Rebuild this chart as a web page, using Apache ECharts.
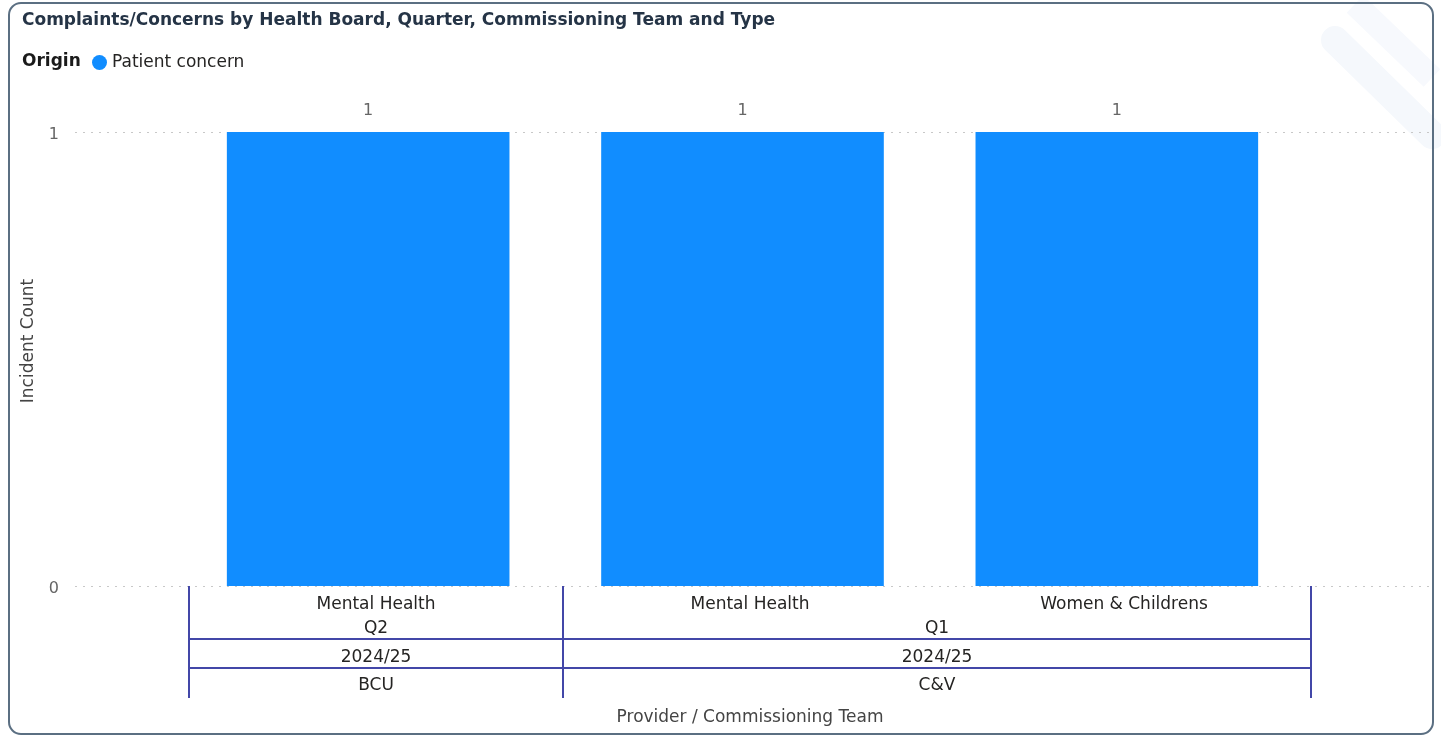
<!DOCTYPE html>
<html>
<head>
<meta charset="utf-8">
<script src="https://cdn.jsdelivr.net/npm/echarts@6/dist/echarts.min.js"></script>
<style>
html,body{margin:0;padding:0;background:#fff;}
#chart{width:1441px;height:736px;}
</style>
</head>
<body>
<div id="chart"></div>
<script>
// ---- data ----
const titleText = "Complaints/Concerns by Health Board, Quarter, Commissioning Team and Type";
const legendTitle = "Origin";
const seriesName = "Patient concern";
const teams = ["Mental Health", "Mental Health", "Women & Childrens"];
const quarters = [{label: "Q2", span: 1}, {label: "Q1", span: 2}];
const years = [{label: "2024/25", span: 1}, {label: "2024/25", span: 2}];
const providers = [{label: "BCU", span: 1}, {label: "C&V", span: 2}];
const values = [1, 1, 1];
const yMin = 0, yMax = 1, yInterval = 1;
const yAxisName = "Incident Count";
const xAxisName = "Provider / Commissioning Team";

// ---- helpers: build boundary-point label arrays (2n+1 points) ----
const n = teams.length;
function groupPoints(groups) {
  const arr = new Array(2 * n + 1).fill('');
  let c = 0;
  groups.forEach(g => { arr[2 * c + g.span] = g.label; c += g.span; });
  return arr;
}
function groupBoundaries(groups) {
  const set = new Set([0]);
  let c = 0;
  groups.forEach(g => { c += g.span; set.add(2 * c); });
  return set;
}
const teamPts = new Array(2 * n + 1).fill('');
teams.forEach((t, i) => { teamPts[2 * i + 1] = t; });
const quarterPts = groupPoints(quarters);
const yearPts = groupPoints(years);
const providerPts = groupPoints(providers);
const bounds = groupBoundaries(providers);

const FONT = 'DejaVu Sans, Verdana, sans-serif';
const TXT = '#252423';
const HIER = '#4347a8';
const FS = 17;

const chart = echarts.init(document.getElementById('chart'), null, {renderer: 'canvas'});

function hierAxis(pts, offset, margin, showLine) {
  return {
    type: 'category', gridIndex: 2, position: 'bottom', offset: offset,
    boundaryGap: false, data: pts,
    axisLine: {show: showLine, lineStyle: {color: HIER, width: 2}},
    axisTick: {show: false},
    axisLabel: {inside: true, margin: margin, interval: 0, fontSize: FS, color: TXT, fontFamily: FONT},
    splitLine: {show: false}
  };
}

const provAxis = hierAxis(providerPts, 112, 4, false);
provAxis.axisTick = {show: true, inside: true, length: 112, interval: (i) => bounds.has(i),
  lineStyle: {color: HIER, width: 2}};
provAxis.name = xAxisName;
provAxis.nameLocation = 'middle';
provAxis.nameGap = 11;
provAxis.nameTextStyle = {fontSize: FS, color: '#444', fontFamily: FONT, verticalAlign: 'top'};

const option = {
  animation: false,
  textStyle: {fontFamily: FONT},
  title: [
    {text: titleText, left: 22, top: 12, padding: 0,
     textStyle: {fontSize: 17, fontWeight: 'bold', color: '#253446', fontFamily: FONT}},
    {text: legendTitle, left: 22, top: 53, padding: 0,
     textStyle: {fontSize: FS, fontWeight: 'bold', color: '#1a1a1a', fontFamily: FONT}}
  ],
  legend: {
    left: 92, top: 54, padding: 0, icon: 'circle', itemWidth: 15, itemHeight: 15,
    textStyle: {fontSize: FS, color: TXT, fontFamily: FONT},
    data: [seriesName]
  },
  graphic: [
    {type: 'line', silent: true, z: -10, shape: {x1: 1335, y1: 40, x2: 1432, y2: 135},
     style: {stroke: '#f5f8fc', lineWidth: 28, lineCap: 'round'}},
    {type: 'line', silent: true, z: -10, shape: {x1: 1355, y1: 4, x2: 1432, y2: 78},
     style: {stroke: '#f7f9fd', lineWidth: 24, lineCap: 'butt'}},
    {type: 'rect', silent: true, z: 100, shape: {x: 9, y: 3, width: 1424, height: 731, r: 12},
     style: {fill: 'none', stroke: '#5b6f82', lineWidth: 2}}
  ],
  grid: [
    {left: 75, right: 11, top: 132, bottom: 150, show: false},
    {left: 181, width: 1123, top: 132, bottom: 150, show: false},
    {left: 189, width: 1122, top: 132, bottom: 150, show: false},
    {left: 75, width: 10, top: 96, bottom: 150, show: false}
  ],
  xAxis: [
    {type: 'category', gridIndex: 1, data: teams, show: false},
    {type: 'value', gridIndex: 0, show: false},
    {type: 'category', gridIndex: 2, position: 'bottom', boundaryGap: false, data: teamPts,
     axisLine: {show: false}, axisTick: {show: false}, splitLine: {show: false},
     axisLabel: {margin: 10, interval: 0, fontSize: FS, color: TXT, fontFamily: FONT}},
    hierAxis(quarterPts, 53, 2, true),
    hierAxis(yearPts, 82, 2, true),
    provAxis,
    {type: 'value', gridIndex: 3, show: false}
  ],
  yAxis: [
    {type: 'value', gridIndex: 0, min: yMin, max: yMax, interval: yInterval,
     axisLine: {show: false}, axisTick: {show: false},
     axisLabel: {margin: 16, fontSize: 16, color: '#666', fontFamily: FONT,
       formatter: (v) => '{a|' + v + '}',
       rich: {a: {fontSize: 16, color: '#666', fontFamily: FONT, padding: [6, 0, 0, 0]}}},
     splitLine: {show: true, lineStyle: {color: '#c8c8c8', type: [2, 6], width: 1}}},
    {type: 'value', gridIndex: 1, min: yMin, max: yMax, interval: yInterval, show: false},
    {type: 'value', gridIndex: 2, min: yMin, max: yMax, show: false},
    {type: 'value', gridIndex: 3, min: yMin, max: yMax,
     axisLine: {show: false}, axisTick: {show: false}, axisLabel: {show: false}, splitLine: {show: false},
     name: yAxisName, nameLocation: 'middle', nameGap: 38,
     nameTextStyle: {fontSize: FS, color: '#444', fontFamily: FONT}}
  ],
  series: [{
    name: seriesName, type: 'bar', xAxisIndex: 0, yAxisIndex: 1,
    data: values, barCategoryGap: '24.5%',
    itemStyle: {color: '#118dff'},
    label: {show: true, position: 'top', distance: 13, fontSize: 16, color: '#666', fontFamily: FONT}
  }]
};
chart.setOption(option);
</script>
</body>
</html>
